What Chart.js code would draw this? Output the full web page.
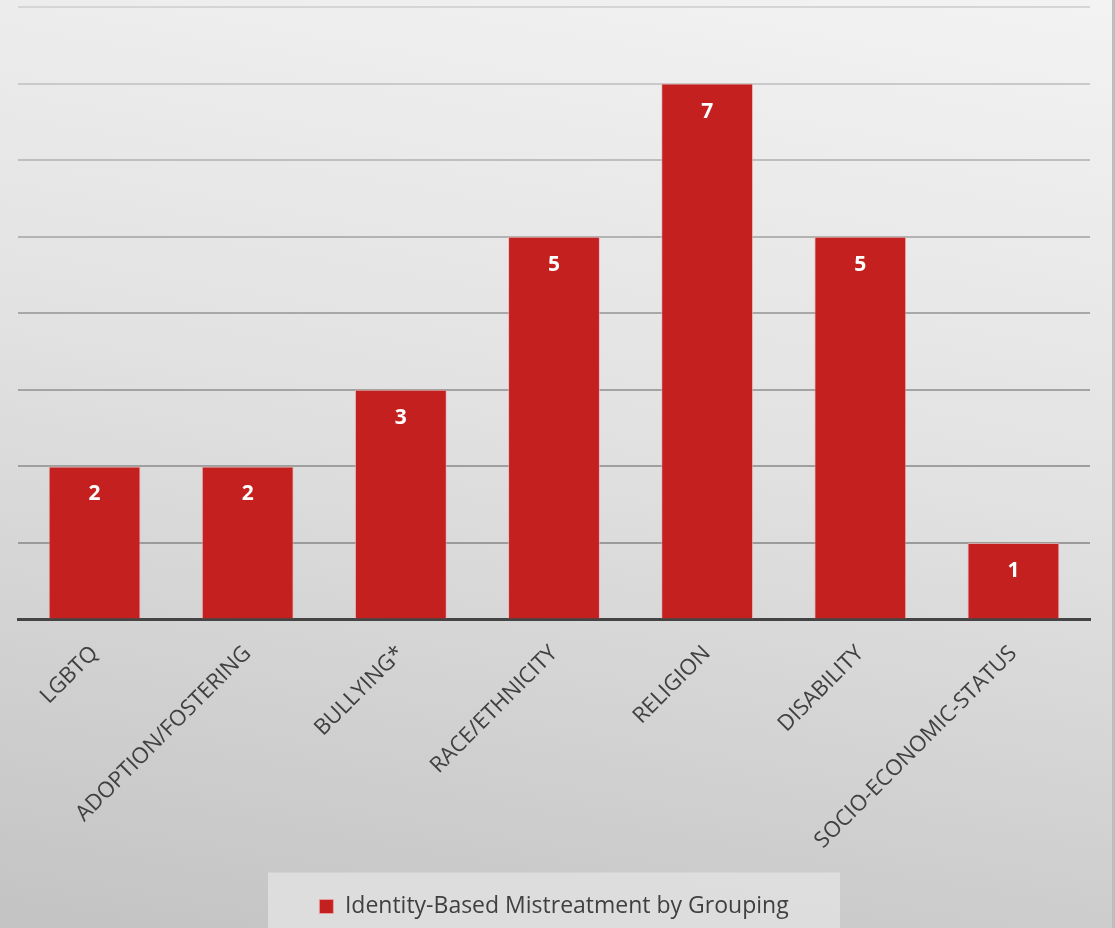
<!DOCTYPE html>
<html>
<head>
<meta charset="utf-8">
<script src="https://cdn.jsdelivr.net/npm/chart.js@4.4.0/dist/chart.umd.min.js"></script>
<style>
  html, body { margin: 0; padding: 0; }
  body {
    width: 1115px; height: 928px; overflow: hidden;
    background: linear-gradient(190deg, #f3f3f3 0%, #e2e2e2 45%, #c3c3c3 100%);
  }
  #wrap { position: relative; width: 1112px; height: 928px; border-right: 3px solid #bdbdbd; }
</style>
</head>
<body>
<div id="wrap"><canvas id="chart" width="1112" height="928"></canvas></div>
<script>
// ---------- DATA ----------
const categories = ["LGBTQ", "ADOPTION/FOSTERING", "BULLYING*", "RACE/ETHNICITY", "RELIGION", "DISABILITY", "SOCIO-ECONOMIC-STATUS"];
const counts = [2, 2, 3, 5, 7, 5, 1];
const seriesName = "Identity-Based Mistreatment by Grouping";
const yMax = 8;

const BAR_RED = "#c42020";
const FONT = "'Open Sans', 'Liberation Sans', sans-serif";

const ctx = document.getElementById("chart").getContext("2d");
const gridGrad = ctx.createLinearGradient(0, 0, 0, 620);
gridGrad.addColorStop(0, "#d6d6d6");
gridGrad.addColorStop(0.5, "#a8a8a8");
gridGrad.addColorStop(1, "#969696");

// white value labels inside the top of each bar
const valueLabels = {
  id: "valueLabels",
  afterDatasetsDraw(chart) {
    const c = chart.ctx;
    c.save();
    c.fillStyle = "#ffffff";
    c.font = "bold 21px " + FONT;
    c.textAlign = "center";
    c.textBaseline = "middle";
    chart.getDatasetMeta(0).data.forEach((bar, i) => {
      c.fillText(counts[i], bar.x, bar.y + 28);
    });
    c.restore();
  }
};

// light panel behind the legend
const legendPanel = {
  id: "legendPanel",
  beforeDraw(chart) {
    const lg = chart.legend;
    if (!lg || !lg.legendHitBoxes.length) return;
    const hb = lg.legendHitBoxes[0];
    const cx = hb.left + hb.width / 2;
    const cy = hb.top + hb.height / 2;
    const c = chart.ctx;
    c.save();
    c.fillStyle = "rgba(225,225,225,0.85)";
    c.fillRect(cx - 286, cy - 34, 572, 70);
    c.restore();
  }
};

new Chart(ctx, {
  type: "bar",
  data: {
    labels: categories,
    datasets: [{
      label: seriesName,
      data: counts,
      backgroundColor: BAR_RED,
      borderColor: "rgba(240,170,170,0.7)",
      borderWidth: 1,
      categoryPercentage: 1,
      barPercentage: 0.6
    }]
  },
  options: {
    responsive: false,
    animation: false,
    layout: { padding: { left: 18, right: 22, top: 7, bottom: 0 } },
    plugins: {
      legend: {
        position: "bottom",
        labels: {
          color: "#404040",
          font: { family: FONT, size: 23 },
          boxWidth: 14, boxHeight: 14,
          padding: 20
        }
      },
      tooltip: { enabled: false }
    },
    scales: {
      x: {
        grid: { display: false, drawTicks: false },
        border: { display: true, color: "#444444", width: 3 },
        ticks: {
          color: "#404040",
          font: { family: FONT, size: 22 },
          maxRotation: 45, minRotation: 45,
          padding: 21
        }
      },
      y: {
        min: 0, max: yMax,
        ticks: { display: false, stepSize: 1 },
        grid: { color: gridGrad, lineWidth: 2, drawTicks: false },
        border: { display: false }
      }
    }
  },
  plugins: [valueLabels, legendPanel]
});
</script>
</body>
</html>
